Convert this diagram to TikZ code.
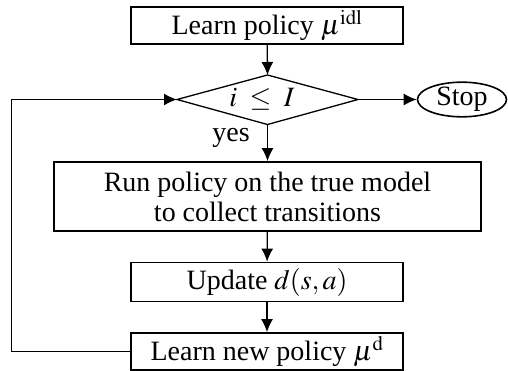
\documentclass[tikz,border=0pt]{standalone}
\usepackage{mathptmx}
\usepackage{fontspec}
\setmainfont{Liberation Serif}
\usetikzlibrary{shapes.geometric,arrows.meta}
\begin{document}
\begin{tikzpicture}[x=1pt,y=-1pt,
  font=\fontsize{28}{30}\selectfont,
  box/.style={draw,line width=1.8pt,minimum width=272pt,inner sep=0pt,align=center},
  conn/.style={line width=1.3pt,-{Latex[length=13pt,width=12pt]}},
  line/.style={line width=1.3pt}]
\useasboundingbox (0,0) rectangle (508,370);
\node[box,minimum height=37pt] (top) at (267,25.5) {Learn policy $\mu^{\mathrm{idl}}$};
\coordinate (dtop) at (267.5,75);
\coordinate (dbot) at (267.5,124.5);
\coordinate (dleft) at (177,99.5);
\coordinate (dright) at (358,99.5);
\draw[line] (dtop) -- (dright) -- (dbot) -- (dleft) -- cycle;
\node (dtext) at (262,99.5) {$i \mathrel{\;\leq\;} I$};
\node[draw,ellipse,line width=1.6pt,minimum width=89pt,minimum height=32pt,inner sep=0pt] (stop) at (462,99.5) {Stop};
\node[box,minimum width=427pt,minimum height=69pt] (run) at (267.5,196.5) {Run policy on the true model\\to collect transitions};
\node[box,minimum height=39pt] (upd) at (267,282) {Update $d(s,a)$};
\node[box,minimum height=37pt] (last) at (267,351.5) {Learn new policy $\mu^{\mathrm{d}}$};
\node[anchor=base east,inner sep=0pt] (yes) at (250,141) {yes};
\coordinate (c1) at (11.7,351.5);
\coordinate (c2) at (11.7,99.5);
\draw[conn] (top) -- (dtop);
\draw[conn] (dright) -- (stop);
\draw[conn] (dbot) -- (run);
\draw[conn] (run) -- (upd);
\draw[conn] (upd) -- (last);
\draw[conn] (last.west) -- (c1) -- (c2) -- (dleft);
\end{tikzpicture}
\end{document}
